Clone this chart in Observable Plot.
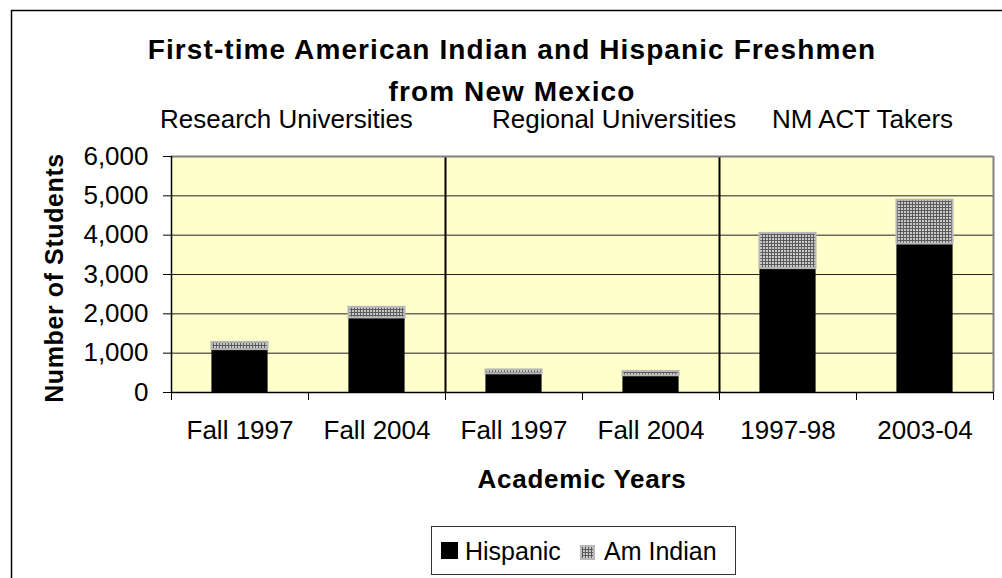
<!DOCTYPE html>
<html><head><meta charset="utf-8">
<script src="https://cdn.jsdelivr.net/npm/d3@7"></script>
<script src="https://cdn.jsdelivr.net/npm/@observablehq/plot@0.6"></script>
<style>
body{margin:0;background:#fff;font-family:"Liberation Sans",Arial,sans-serif;}
#wrap{position:relative;width:1002px;height:578px;overflow:hidden;background:#fff;}
#wrap svg{position:absolute;left:0;top:0;}
</style></head><body>
<svg width="0" height="0" style="position:absolute">
  <defs>
    <pattern id="amind" patternUnits="userSpaceOnUse" width="3" height="3">
      <rect width="3" height="3" fill="#cacaca"/>
      <rect width="3" height="1" fill="#5a5a5a"/>
      <rect width="1" height="3" fill="#5a5a5a"/>
    </pattern>
  </defs>
</svg>
<div id="wrap"></div>
<script>
const titleLines = ["First-time American Indian and Hispanic Freshmen", "from New Mexico"];
const groups = ["Research Universities", "Regional Universities", "NM ACT Takers"];
const labels = ["Fall 1997", "Fall 2004", "Fall 1997", "Fall 2004", "1997-98", "2003-04"];
const hispanic = [1090, 1895, 475, 425, 3150, 3775];
const amIndian = [185, 270, 100, 110, 895, 1115];
const seriesNames = ["Hispanic", "Am Indian"];
const yTicks = [0, 1000, 2000, 3000, 4000, 5000, 6000];
const groupBreaks = [2, 4];
const yTitle = "Number of Students";
const xTitle = "Academic Years";

const rows = labels.map((l, i) => ({i, label: l, hisp: hispanic[i], amind: amIndian[i]}));
const bounds = d3.range(labels.length + 1);
const centers = labels.map((l, i) => i + 0.5);
const half = 0.205;
const font = "Liberation Sans, Arial, sans-serif";

const chart = Plot.plot({
  width: 1002, height: 578,
  marginLeft: 171, marginRight: 9, marginTop: 156, marginBottom: 186,
  style: {fontFamily: font, fontSize: "26px", color: "#000", background: "transparent", overflow: "visible"},
  x: {type: "linear", domain: [0, labels.length], axis: null},
  y: {domain: [0, 6000], axis: null},
  marks: [
    Plot.frame({fill: "#FFFFCC", stroke: null}),
    Plot.ruleY(yTicks.slice(1, -1), {stroke: "#222", strokeWidth: 1}),
    Plot.rect(rows, {x1: d => d.i + 0.5 - half, x2: d => d.i + 0.5 + half, y1: 0, y2: "hisp", fill: "#000"}),
    Plot.rect(rows, {x1: d => d.i + 0.5 - half, x2: d => d.i + 0.5 + half, y1: "hisp", y2: d => d.hisp + d.amind, fill: "url(#amind)", stroke: "#b8b8b8", strokeWidth: 2}),
    Plot.ruleX(groupBreaks, {stroke: "#000", strokeWidth: 2}),
    Plot.ruleY([6000], {stroke: "#808080", strokeWidth: 2}),
    Plot.ruleX([labels.length], {stroke: "#808080", strokeWidth: 2}),
    Plot.ruleX([0], {stroke: "#000", strokeWidth: 1.5}),
    Plot.ruleY([0], {stroke: "#000", strokeWidth: 1.5}),
    Plot.axisY({ticks: yTicks, tickFormat: d3.format(","), tickSize: 8, tickPadding: 15, fontSize: 26, label: null}),
    Plot.axisX({ticks: bounds, tickFormat: () => "", tickSize: 8, label: null}),
    Plot.axisX({ticks: centers, tickFormat: d => labels[Math.floor(d)], tickSize: 0, tickPadding: 28.5, fontSize: 26, label: null})
  ]
});
const wrap = d3.select("#wrap");
wrap.node().appendChild(chart);

// Overlay: frame, titles, axis titles, legend
const o = wrap.append("svg").attr("width", 1002).attr("height", 578)
  .style("font-family", font).attr("fill", "#000");
o.append("path").attr("d", "M11.5,578V10.5H1002").attr("fill", "none").attr("stroke", "#000").attr("stroke-width", 1.5);

o.append("text").attr("x", 512).attr("y", 59).attr("text-anchor", "middle")
  .attr("font-size", 28).attr("font-weight", "bold").attr("letter-spacing", 1.1).text(titleLines[0]);
o.append("text").attr("x", 512).attr("y", 101).attr("text-anchor", "middle")
  .attr("font-size", 28).attr("font-weight", "bold").attr("letter-spacing", 1.1).text(titleLines[1]);

const gx = [160, 492, 772];
groups.forEach((g, i) => o.append("text").attr("x", gx[i]).attr("y", 128).attr("font-size", 26).text(g));

o.append("text").attr("transform", "translate(63,278) rotate(-90)").attr("text-anchor", "middle")
  .attr("font-size", 25).attr("font-weight", "bold").attr("letter-spacing", 0.6).text(yTitle);
o.append("text").attr("x", 582).attr("y", 488).attr("text-anchor", "middle")
  .attr("font-size", 26).attr("font-weight", "bold").attr("letter-spacing", 0.7).text(xTitle);

// legend
o.append("rect").attr("x", 431.5).attr("y", 526.5).attr("width", 304).attr("height", 48)
  .attr("fill", "#fff").attr("stroke", "#333").attr("stroke-width", 1);
o.append("rect").attr("x", 441).attr("y", 542).attr("width", 17).attr("height", 17).attr("fill", "#000");
o.append("text").attr("x", 465).attr("y", 560).attr("font-size", 25).text(seriesNames[0]);
o.append("rect").attr("x", 581).attr("y", 546).attr("width", 13).attr("height", 13)
  .attr("fill", "url(#amind)").attr("stroke", "#b8b8b8").attr("stroke-width", 2);
o.append("text").attr("x", 604).attr("y", 560).attr("font-size", 25).text(seriesNames[1]);
</script>
</body></html>
